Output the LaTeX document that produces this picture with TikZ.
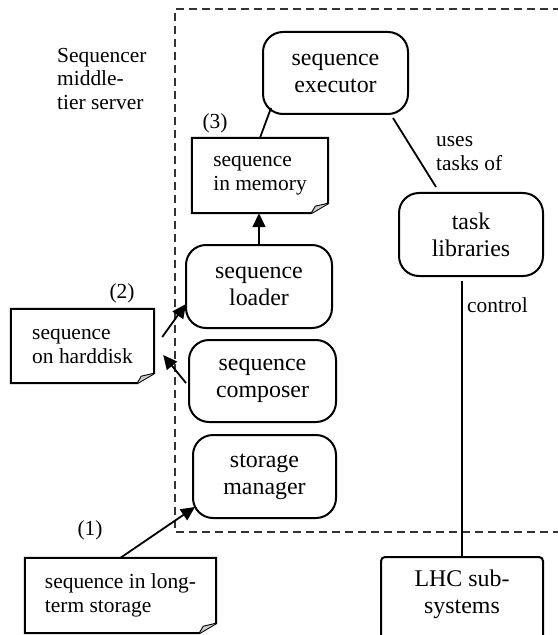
\documentclass[tikz,border=0pt]{standalone}
\usepackage{fontspec}
\setmainfont{Liberation Serif}
\usetikzlibrary{arrows.meta,calc}
\tikzset{
  boxfont/.style={font=\fontsize{24}{27}\selectfont},
  lblfont/.style={font=\fontsize{21.5}{24}\selectfont},
  rbox/.style={draw, line width=2bp, rounded corners=20bp, align=center, boxfont, inner sep=0pt},
  notebox/.style={align=left, lblfont, inner sep=0pt},
  lbl/.style={lblfont, inner sep=0pt},
  conn/.style={line width=1.8bp},
  arr/.style={line width=1.8bp, -{Triangle[length=14bp,width=13bp]}},
  dashbox/.style={line width=1.3bp, black!80, dash pattern=on 8bp off 5bp},
}
\newcommand{\notefold}[1]{%
  \draw[line width=2bp, line join=miter] (#1.north west) -- (#1.north east) -- ([yshift=10bp]#1.south east) -- ([xshift=-17bp]#1.south east) -- (#1.south west) -- cycle;
  \filldraw[line width=0.9bp, fill=gray!40] ([xshift=-17bp]#1.south east) -- ([xshift=-13bp,yshift=7bp]#1.south east) -- ([yshift=10bp]#1.south east);
}
\begin{document}
\begin{tikzpicture}[x=1bp,y=-1bp]
\useasboundingbox (0,0) rectangle (558,635);
\clip (0,0) rectangle (558,635);
% dashed server boundary
\draw[dashbox] (600,9) -- (175,9) -- (175,532) -- (600,532);
% rounded boxes
\node[rbox, minimum width=145bp, minimum height=82bp] (exec) at (335.5,73) {sequence\\executor};
\node[rbox, minimum width=146bp, minimum height=83bp] (loader) at (259,286.5) {sequence\\loader};
\node[rbox, minimum width=147bp, minimum height=82bp] (composer) at (262.5,381) {sequence\\composer};
\node[rbox, minimum width=143bp, minimum height=83bp] (storage) at (264.5,476.5) {storage\\manager};
\node[rbox, minimum width=144bp, minimum height=83bp] (tasks) at (471,234.5) {task\\libraries};
\node[draw, line width=2bp, rounded corners=4bp, minimum width=162bp, minimum height=110bp, anchor=north] (lhc) at (462,556) {};
\node[boxfont, align=center, inner sep=0pt] (lhctext) at (462,594) {LHC sub-\\systems};
% note boxes
\node[notebox, minimum width=136bp, minimum height=75bp] (mem) at (260,175.5) {sequence\\in memory};
\notefold{mem}
\node[notebox, minimum width=143bp, minimum height=74bp] (disk) at (82.5,346) {sequence\\on harddisk};
\notefold{disk}
\node[notebox, minimum width=191bp, minimum height=75bp] (longterm) at (120.5,595.5) {sequence in long-\\term storage};
\notefold{longterm}
% labels
\node[lbl, align=left, anchor=west] (server) at (57,79) {Sequencer\\middle-\\tier server};
\node[lbl, align=left, anchor=west] (uses) at (436,153.5) {uses\\tasks of};
\node[lbl, anchor=west] (ctrl) at (467,305) {control};
\node[lbl] (l3) at (215,123) {(3)};
\node[lbl] (l2) at (122,293) {(2)};
\node[lbl] (l1) at (90,530) {(1)};
% connectors
\draw[conn] (mem.north) -- ($(exec.south west)+(9,-7)$);
\draw[arr] (loader.north) -- (loader.north |- mem.south);
\draw[arr] ($(disk.east)+(8,-9)$) -- ($(loader.south west)+(1,-25)$);
\draw[arr] ($(composer.west)+(-2,2)$) -- ($(disk.east)+(9,9)$);
\draw[arr] (longterm.north) -- ($(storage.south west)+(3,-12)$);
\draw[conn] ($(exec.south east)+(-16,3)$) -- ($(tasks.north west)+(38,-5)$);
\draw[conn] ($(tasks.south -| lhc.north)+(0,4)$) -- (lhc.north);
\end{tikzpicture}
\end{document}
